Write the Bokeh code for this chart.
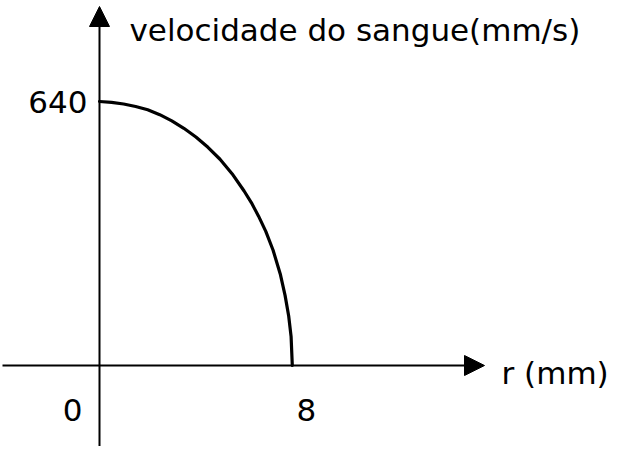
from bokeh.plotting import figure
from bokeh.models import Range1d, Arrow, NormalHead
from bokeh.core.properties import value
from bokeh.embed import file_html
from bokeh.resources import INLINE

# ---- data ----
r_mm = [0, 0.5, 1, 1.5, 2, 2.5, 3, 3.5, 4, 4.5, 5, 5.5, 6, 6.3, 6.6,
        6.9, 7.2, 7.5, 7.7, 7.85, 7.95, 8]
v_mms = [640, 638, 634, 628, 620, 608, 593, 575, 554, 529, 500, 465, 423,
         395, 362, 325, 280, 222, 170, 120, 70, 0]

x_tick_vals = [0, 8]
x_tick_labels = ["0", "8"]
y_tick_vals = [640]
y_tick_labels = ["640"]

x_label = "r (mm)"
y_label = "velocidade do sangue(mm/s)"

# ---- layout ----
W, H = 615, 446
px_per_r = 24.1
px_per_v = 0.4125
x0_page, y0_page = 107 - 8, 373 - 8   # origin inside the figure (pixels)
x_lo = -x0_page / px_per_r
x_hi = (W - x0_page) / px_per_r
y_hi = y0_page / px_per_v
y_lo = -(H - y0_page) / px_per_v

p = figure(width=W, height=H, output_backend="svg", toolbar_location=None,
           x_range=Range1d(x_lo, x_hi), y_range=Range1d(y_lo, y_hi),
           min_border=0, outline_line_color=None)
p.axis.visible = False
p.grid.visible = False
p.background_fill_color = "white"
p.border_fill_color = "white"

FONT = value("DejaVu Sans")
FS = "31px"

# x axis with arrow
x_axis_start = (10 - 107) / px_per_r
x_axis_end = (492 - 107) / px_per_r
p.add_layout(Arrow(end=NormalHead(size=20, fill_color="black", line_color="black", line_width=1),
                   x_start=x_axis_start, y_start=0, x_end=x_axis_end, y_end=0,
                   line_color="black", line_width=2))
# y axis with arrow
y_axis_start = y_lo
y_axis_end = (373 - 14) / px_per_v
p.add_layout(Arrow(end=NormalHead(size=20, fill_color="black", line_color="black", line_width=1),
                   x_start=0, y_start=y_axis_start, x_end=0, y_end=y_axis_end,
                   line_color="black", line_width=2))

# curve
p.line(r_mm, v_mms, line_color="black", line_width=3.2, line_join="round", line_cap="round")

# tick labels
p.text(x=[0] * len(y_tick_vals), y=y_tick_vals, text=y_tick_labels,
       text_font=FONT, text_font_size=FS, text_color="black",
       text_align="right", text_baseline="middle", x_offset=-12, y_offset=0)
p.text(x=x_tick_vals, y=[0] * len(x_tick_vals), text=x_tick_labels,
       text_font=FONT, text_font_size=FS, text_color="black",
       text_align="center", text_baseline="middle",
       x_offset=[-27, 14], y_offset=44)

# axis titles
p.text(x=[x_axis_end], y=[0], text=[x_label],
       text_font=FONT, text_font_size=FS, text_color="black",
       text_align="left", text_baseline="middle", x_offset=17, y_offset=7)
p.text(x=[0], y=[y_axis_end], text=[y_label],
       text_font=FONT, text_font_size=FS, text_color="black",
       text_align="left", text_baseline="middle", x_offset=30, y_offset=23)

open("out.html", "w").write(file_html(p, INLINE))
